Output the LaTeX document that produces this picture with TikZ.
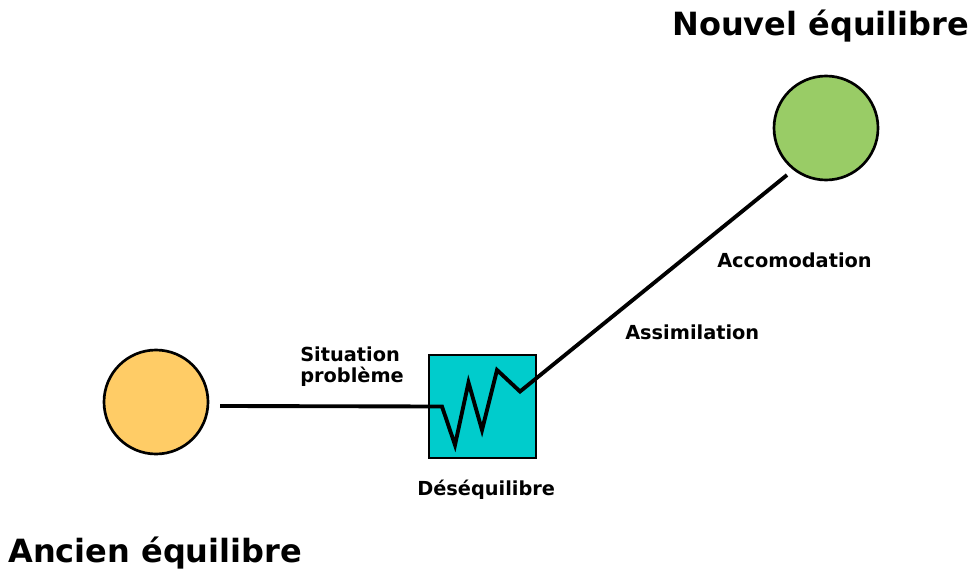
\documentclass[tikz,border=0pt]{standalone}
\usepackage{fontspec}
\setmainfont{DejaVu Sans}
\definecolor{oldc}{RGB}{255,204,102}
\definecolor{newc}{RGB}{153,204,102}
\definecolor{boxc}{RGB}{0,204,204}
\tikzset{
  stage/.style={circle, draw=black, line width=2pt, minimum size=78pt, inner sep=0pt},
  title/.style={font=\fontsize{24pt}{28pt}\selectfont\bfseries, inner sep=0pt, anchor=base west},
  lbl/.style={font=\fontsize{14.5pt}{16pt}\selectfont\bfseries, inner sep=0pt, anchor=base west},
  conn/.style={line width=2.9pt, line join=miter},
}
\begin{document}
\begin{tikzpicture}[x=0.75pt,y=-0.75pt]
\useasboundingbox[fill=white] (0,0) rectangle (973,574);
% circles
\node[stage, fill=oldc] (old) at (156,402) {};
\node[stage, fill=newc] (new) at (826,128) {};
% box
\node[draw=black, line width=1.9pt, fill=boxc, minimum width=80pt, minimum height=77pt, inner sep=0pt] (box) at (482.5,406.5) {};
% connector ends
\coordinate (a0) at (220,406);
\coordinate (z0) at (442,406.5);
\coordinate (z1) at (455,445);
\coordinate (z2) at (468.5,382.5);
\coordinate (z3) at (482,430);
\coordinate (z4) at (497,370);
\coordinate (z5) at (520,391.5);
\coordinate (b1) at (787,175);
\draw[conn] (a0) -- (z0) -- (z1) -- (z2) -- (z3) -- (z4) -- (z5) -- (b1);
% texts
\node[title] (tnew) at (672,36) {Nouvel équilibre};
\node[title] (told) at (8,562) {Ancien équilibre};
\node[lbl] (acc) at (717,267) {Accomodation};
\node[lbl] (ass) at (625,339) {Assimilation};
\node[lbl] (sit1) at (300,361) {Situation};
\node[lbl] (sit2) at (300,382) {problème};
\node[lbl] (des) at (417,495) {Déséquilibre};
\end{tikzpicture}
\end{document}
